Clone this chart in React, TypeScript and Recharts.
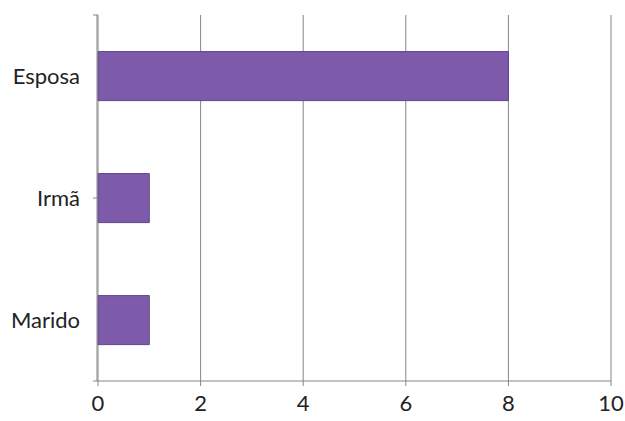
import { BarChart, Bar, XAxis, YAxis, CartesianGrid } from "recharts";

const categories = ["Esposa", "Irmã", "Marido"];
const values = [8, 1, 1];
const xTicks = [0, 2, 4, 6, 8, 10];
const boundaryTicks = [0, 1, 2, 3];

const data = categories.map((name, i) => ({ name, value: values[i] }));

const font = "Lato, 'Open Sans', sans-serif";
const axisColor = "#868686";

const App = () => {
  return (
    <div style={{ position: "absolute", left: 0, top: 0, background: "#fff" }}>
      <BarChart
        width={625}
        height={421}
        data={data}
        layout="vertical"
        barCategoryGap="30%"
        margin={{ top: 15, right: 14, left: 11, bottom: 10 }}
      >
        <CartesianGrid
          horizontal={false}
          yAxisId="names"
          stroke={axisColor}
          strokeWidth={1}
        />
        <XAxis
          type="number"
          domain={[0, 10]}
          ticks={xTicks}
          height={30}
          stroke={axisColor}
          tickSize={5}
          tickMargin={9}
          tick={{ fill: "#222", fontSize: 22, fontFamily: font }}
        />
        <YAxis
          yAxisId="edges"
          type="number"
          orientation="left"
          domain={[0, 3]}
          ticks={boundaryTicks}
          allowDataOverflow
          width={1}
          axisLine={false}
          tick={() => <g />}
          tickLine={{ stroke: axisColor }}
          tickSize={5}
          stroke={axisColor}
        />
        <YAxis
          yAxisId="names"
          type="category"
          dataKey="name"
          width={86}
          stroke={axisColor}
          tickLine={false}
          tickSize={0}
          tickMargin={17}
          tick={{ fill: "#222", fontSize: 22, fontFamily: font }}
        />
        <Bar
          yAxisId="names"
          dataKey="value"
          fill="#7E5BAA"
          stroke="#5F4589"
          strokeWidth={1}
          isAnimationActive={false}
        />
      </BarChart>
    </div>
  );
};

export default App;
